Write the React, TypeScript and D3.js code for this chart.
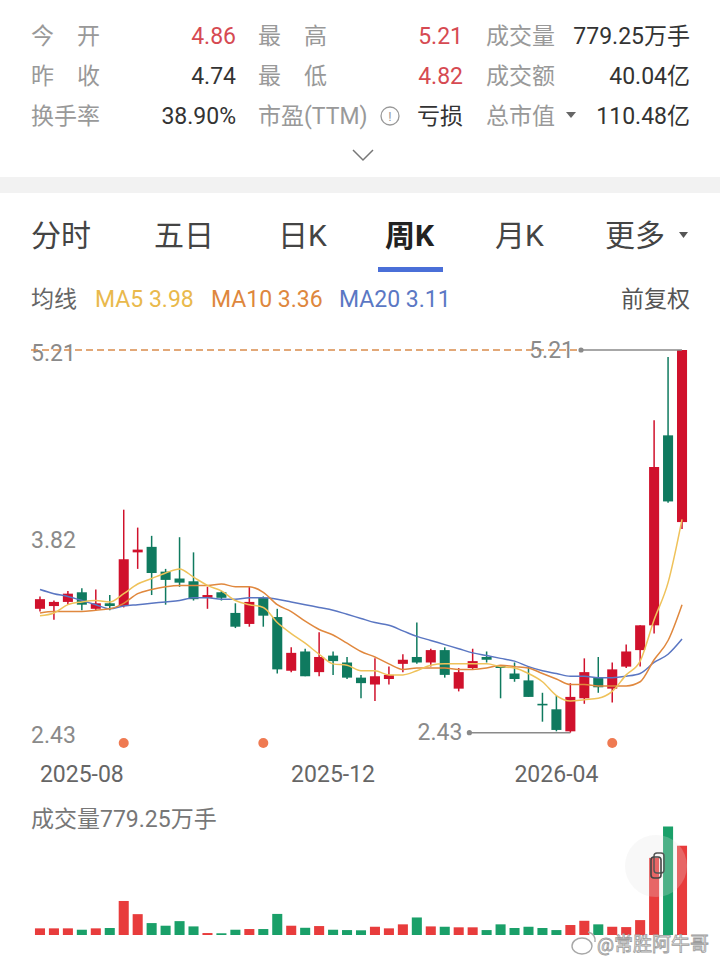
import React, { useRef, useEffect } from 'react';
import * as d3 from 'd3';

// weekly candles (index 0 = first visible week)
const opens = [3.33, 3.35, 3.38, 3.45, 3.33, 3.37, 3.35, 3.74, 3.78, 3.60, 3.55, 3.53, 3.41, 3.45, 3.30, 3.22, 3.41, 3.27, 2.88, 3.02, 2.87, 2.99, 2.94, 2.83, 2.78, 2.82, 2.93, 2.98, 2.94, 3.03, 2.75, 2.90, 2.98, 2.92, 2.86, 2.81, 2.64, 2.60, 2.44, 2.68, 2.83, 2.75, 2.91, 3.03, 3.21, 4.59, 3.96];
const highs = [3.42, 3.39, 3.46, 3.48, 3.47, 3.43, 4.05, 3.92, 3.86, 3.62, 3.85, 3.74, 3.49, 3.46, 3.37, 3.49, 3.42, 3.33, 3.05, 3.04, 3.16, 3.02, 2.98, 2.85, 2.97, 2.91, 3.00, 3.23, 3.04, 3.05, 2.90, 3.04, 3.02, 2.92, 2.94, 2.91, 2.72, 2.70, 2.79, 2.97, 2.98, 2.94, 3.07, 3.21, 4.70, 5.16, 5.21];
const lows = [3.31, 3.25, 3.36, 3.32, 3.32, 3.32, 3.34, 3.62, 3.43, 3.36, 3.49, 3.39, 3.33, 3.39, 3.19, 3.20, 3.20, 2.86, 2.87, 2.84, 2.84, 2.85, 2.82, 2.68, 2.66, 2.78, 2.87, 2.93, 2.91, 2.83, 2.73, 2.89, 2.94, 2.68, 2.80, 2.69, 2.51, 2.44, 2.43, 2.64, 2.72, 2.65, 2.90, 2.91, 3.15, 4.10, 3.91];
const closes = [3.40, 3.38, 3.44, 3.36, 3.37, 3.35, 3.69, 3.76, 3.59, 3.54, 3.52, 3.40, 3.43, 3.41, 3.20, 3.38, 3.28, 2.89, 3.01, 2.84, 2.98, 2.95, 2.83, 2.79, 2.84, 2.85, 2.96, 2.94, 3.03, 2.85, 2.87, 2.95, 2.96, 2.90, 2.82, 2.69, 2.63, 2.45, 2.69, 2.87, 2.76, 2.89, 3.02, 3.21, 4.36, 4.11, 5.21];
// volume, 万手
const volumes = [58, 58, 58, 46, 58, 61, 297, 182, 104, 81, 121, 75, 17, 15, 46, 52, 52, 184, 81, 63, 78, 46, 43, 41, 72, 58, 93, 153, 75, 72, 67, 67, 43, 93, 61, 72, 61, 43, 87, 124, 93, 72, 69, 130, 673, 947, 779.25];
const ma5 = [3.28, 3.30, 3.36, 3.38, 3.39, 3.38, 3.44, 3.51, 3.55, 3.59, 3.62, 3.56, 3.50, 3.46, 3.39, 3.36, 3.34, 3.23, 3.15, 3.08, 3.00, 2.93, 2.92, 2.88, 2.88, 2.85, 2.85, 2.88, 2.92, 2.93, 2.93, 2.93, 2.93, 2.91, 2.90, 2.86, 2.80, 2.70, 2.66, 2.67, 2.68, 2.73, 2.85, 2.95, 3.25, 3.52, 3.98];
const ma10 = [3.30, 3.31, 3.31, 3.31, 3.32, 3.33, 3.37, 3.44, 3.47, 3.49, 3.50, 3.50, 3.50, 3.51, 3.49, 3.49, 3.45, 3.36, 3.31, 3.24, 3.18, 3.14, 3.08, 3.02, 2.98, 2.93, 2.89, 2.90, 2.90, 2.90, 2.89, 2.89, 2.90, 2.92, 2.91, 2.90, 2.86, 2.82, 2.78, 2.78, 2.77, 2.77, 2.77, 2.80, 2.96, 3.10, 3.36];
const ma20 = [3.47, 3.44, 3.42, 3.39, 3.36, 3.33, 3.35, 3.36, 3.37, 3.38, 3.39, 3.41, 3.41, 3.40, 3.40, 3.41, 3.41, 3.40, 3.38, 3.36, 3.34, 3.32, 3.29, 3.26, 3.23, 3.21, 3.17, 3.13, 3.10, 3.07, 3.04, 3.01, 2.99, 2.97, 2.95, 2.91, 2.88, 2.86, 2.84, 2.84, 2.83, 2.83, 2.84, 2.86, 2.94, 3.00, 3.11];

const dateLabels = ['2025-08', '2025-12', '2026-04'];
const dateIndex = [3, 21, 37];
const markerIndex = [6, 16, 41];

const quoteLabels = [['今　开', '最　高', '成交量'], ['昨　收', '最　低', '成交额'], ['换手率', '市盈(TTM)', '总市值']];
const quoteValues = [['4.86', '5.21', '779.25万手'], ['4.74', '4.82', '40.04亿'], ['38.90%', '亏损', '110.48亿']];
const quoteUp = [[true, true, false], [false, true, false], [false, false, false]];
const tabs = ['分时', '五日', '日K', '周K', '月K', '更多'];
const activeTab = 3;

const W = 720;
const H = 960;
const FONT = "Roboto, 'Noto Sans CJK SC', sans-serif";
const RED = '#d0112c';
const GREEN = '#0f7a5f';
const VRED = '#e83c3c';
const VGREEN = '#1aa069';

const App = () => {
  const svgRef = useRef<SVGSVGElement>(null);

  useEffect(() => {
    const svg = d3.select(svgRef.current);
    svg.selectAll('*').remove();
    svg.attr('font-family', FONT);

    svg.append('rect').attr('width', W).attr('height', H).attr('fill', '#fff');

    // ---- quote panel
    const colLabelX = [31, 258, 486];
    const colValueX = [236, 463, 690];
    const rowY = [36, 76, 116];
    quoteLabels.forEach((row, r) => {
      row.forEach((lab, c) => {
        svg.append('text')
          .attr('x', colLabelX[c]).attr('y', rowY[r])
          .attr('dominant-baseline', 'central')
          .attr('font-size', 23).attr('fill', '#999')
          .text(lab);
        svg.append('text')
          .attr('x', colValueX[c]).attr('y', rowY[r])
          .attr('dominant-baseline', 'central')
          .attr('text-anchor', 'end')
          .attr('font-size', 23)
          .attr('fill', quoteUp[r][c] ? '#d64a52' : '#333')
          .text(quoteValues[r][c]);
      });
    });
    // info icon after 市盈(TTM)
    svg.append('circle').attr('cx', 390).attr('cy', 116).attr('r', 9)
      .attr('fill', 'none').attr('stroke', '#999').attr('stroke-width', 1.3);
    svg.append('text').attr('x', 390).attr('y', 116).attr('text-anchor', 'middle')
      .attr('dominant-baseline', 'central').attr('font-size', 13).attr('fill', '#999').text('!');
    // dropdown arrow after 总市值
    svg.append('path').attr('d', 'M566,112 L576,112 L571,118 Z').attr('fill', '#666');
    // chevron
    svg.append('polyline').attr('points', '353,150 363,160 373,150')
      .attr('fill', 'none').attr('stroke', '#777').attr('stroke-width', 1.5);

    svg.append('rect').attr('x', 0).attr('y', 177).attr('width', W).attr('height', 16).attr('fill', '#f2f2f2');

    // ---- tabs
    const tabX = [31, 154, 278, 385, 495, 605];
    tabs.forEach((t, i) => {
      svg.append('text')
        .attr('x', tabX[i]).attr('y', 235)
        .attr('dominant-baseline', 'central')
        .attr('font-size', 30)
        .attr('font-weight', i === activeTab ? 'bold' : 'normal')
        .attr('fill', i === activeTab ? '#222' : '#444')
        .text(t);
    });
    svg.append('path').attr('d', 'M679,232 L688,232 L683.5,238 Z').attr('fill', '#555');
    svg.append('rect').attr('x', 378).attr('y', 267).attr('width', 65).attr('height', 5).attr('fill', '#4a6fd8');

    // ---- MA legend
    const last = closes.length - 1;
    const legend = [
      { t: '均线', c: '#666', x: 31 },
      { t: `MA5 ${ma5[last].toFixed(2)}`, c: '#e9b94c', x: 95 },
      { t: `MA10 ${ma10[last].toFixed(2)}`, c: '#de873d', x: 211 },
      { t: `MA20 ${ma20[last].toFixed(2)}`, c: '#5b78c4', x: 339 },
    ];
    legend.forEach(d => {
      svg.append('text').attr('x', d.x).attr('y', 299)
        .attr('dominant-baseline', 'central').attr('font-size', 23)
        .attr('fill', d.c).text(d.t);
    });
    svg.append('text').attr('x', 690).attr('y', 299).attr('text-anchor', 'end')
      .attr('dominant-baseline', 'central').attr('font-size', 23).attr('fill', '#555').text('前复权');

    // ---- scales
    const n = closes.length;
    const x = d3.scaleBand<number>().domain(d3.range(n)).range([33, 689]);
    const cx = (i: number) => (x(i) as number) + x.bandwidth() / 2;
    const bodyW = x.bandwidth() * 0.72;
    const lo = d3.min(lows) as number;
    const hi = d3.max(highs) as number;
    const y = d3.scaleLinear().domain([lo, hi]).range([732.7, 350]);
    const yv = d3.scaleLinear().domain([0, d3.max(volumes) as number]).range([935, 826.5]);

    // price labels
    const priceTicks = [hi, (hi + lo) / 2, lo];
    const tickOffset = [3, -1, 3];
    priceTicks.forEach((p, k) => {
      svg.append('text').attr('x', 31).attr('y', y(p) + tickOffset[k])
        .attr('dominant-baseline', 'central').attr('font-size', 23)
        .attr('fill', '#8a8a8a').text(p.toFixed(2));
    });

    // candles
    const g = svg.append('g');
    const idx = d3.range(n);
    g.selectAll('.wick').data(idx).enter().append('line')
      .attr('class', 'wick')
      .attr('x1', i => cx(i)).attr('x2', i => cx(i))
      .attr('y1', i => y(highs[i])).attr('y2', i => y(lows[i]))
      .attr('stroke', i => (closes[i] >= opens[i] ? RED : GREEN))
      .attr('stroke-width', 1.5);
    g.selectAll('.body').data(idx).enter().append('rect')
      .attr('class', 'body')
      .attr('x', i => cx(i) - bodyW / 2)
      .attr('y', i => y(Math.max(opens[i], closes[i])))
      .attr('width', bodyW)
      .attr('height', i => Math.max(1.6, y(Math.min(opens[i], closes[i])) - y(Math.max(opens[i], closes[i]))))
      .attr('fill', i => (closes[i] >= opens[i] ? RED : GREEN));

    // moving averages
    const line = d3.line<number>().x((d, i) => cx(i)).y(d => y(d)).curve(d3.curveMonotoneX);
    [[ma20, '#5a76c2'], [ma10, '#e0883e'], [ma5, '#efc25a']].forEach(([data, col]) => {
      svg.append('path')
        .attr('d', line(data as number[]))
        .attr('fill', 'none')
        .attr('stroke', col as string)
        .attr('stroke-width', 1.5);
    });

    // current price dashed line
    svg.append('line')
      .attr('x1', 31).attr('x2', 577)
      .attr('y1', y(closes[last])).attr('y2', y(closes[last]))
      .attr('stroke', '#d98c4c').attr('stroke-width', 1.6)
      .attr('stroke-dasharray', '7,4');

    // max / min markers
    const iMax = d3.maxIndex(highs);
    const iMin = d3.minIndex(lows);
    [[iMax, highs[iMax]], [iMin, lows[iMin]]].forEach(([i, v]) => {
      const xd = cx(i) - 101;
      svg.append('line').attr('x1', xd).attr('x2', cx(i)).attr('y1', y(v)).attr('y2', y(v))
        .attr('stroke', '#8a8a8a').attr('stroke-width', 1.5);
      svg.append('circle').attr('cx', xd).attr('cy', y(v)).attr('r', 2.6).attr('fill', '#8a8a8a');
      svg.append('text').attr('x', xd - 7).attr('y', y(v))
        .attr('text-anchor', 'end').attr('dominant-baseline', 'central')
        .attr('font-size', 23).attr('fill', '#8a8a8a').text(v.toFixed(2));
    });

    // event markers
    svg.selectAll('.marker').data(markerIndex).enter().append('circle')
      .attr('class', 'marker')
      .attr('cx', i => cx(i)).attr('cy', 743).attr('r', 5)
      .attr('fill', '#ef7a52');

    // date labels
    dateLabels.forEach((t, k) => {
      svg.append('text').attr('x', cx(dateIndex[k])).attr('y', 774)
        .attr('text-anchor', 'middle').attr('dominant-baseline', 'central')
        .attr('font-size', 23).attr('fill', '#666').text(t);
    });

    // ---- volume
    svg.append('text').attr('x', 31).attr('y', 819)
      .attr('dominant-baseline', 'central').attr('font-size', 23).attr('fill', '#777')
      .text(`成交量${volumes[last]}万手`);
    svg.selectAll('.vol').data(idx).enter().append('rect')
      .attr('class', 'vol')
      .attr('x', i => cx(i) - bodyW / 2)
      .attr('y', i => yv(volumes[i]))
      .attr('width', bodyW)
      .attr('height', i => yv(0) - yv(volumes[i]))
      .attr('fill', i => (closes[i] >= opens[i] ? VRED : VGREEN));

    // floating button over the volume
    svg.append('circle').attr('cx', 656).attr('cy', 866).attr('r', 31)
      .attr('fill', '#e2e2e2').attr('opacity', 0.25);
    svg.append('rect').attr('x', 654).attr('y', 853).attr('width', 10).attr('height', 20).attr('rx', 3)
      .attr('fill', 'none').attr('stroke', '#555').attr('stroke-width', 1.4);
    svg.append('rect').attr('x', 651).attr('y', 857).attr('width', 10).attr('height', 21).attr('rx', 3)
      .attr('fill', 'none').attr('stroke', '#444').attr('stroke-width', 1.6);

    // watermark
    svg.append('ellipse').attr('cx', 582).attr('cy', 946).attr('rx', 10).attr('ry', 8)
      .attr('fill', 'none').attr('stroke', '#a8a8a8').attr('stroke-width', 1.4);
    svg.append('path').attr('d', 'M588,932 Q596,934 595,942').attr('fill', 'none')
      .attr('stroke', '#a8a8a8').attr('stroke-width', 1.4);
    svg.append('text').attr('x', 597).attr('y', 944)
      .attr('dominant-baseline', 'central').attr('font-size', 19)
      .attr('fill', '#f4f4f4').attr('stroke', '#9c9c9c').attr('stroke-width', 0.8)
      .text('@常胜阿牛哥');
  }, []);

  return (
    <svg
      ref={svgRef}
      width={W}
      height={H}
      style={{ position: 'absolute', left: 0, top: 0, display: 'block' }}
    ></svg>
  );
};

export default App;
